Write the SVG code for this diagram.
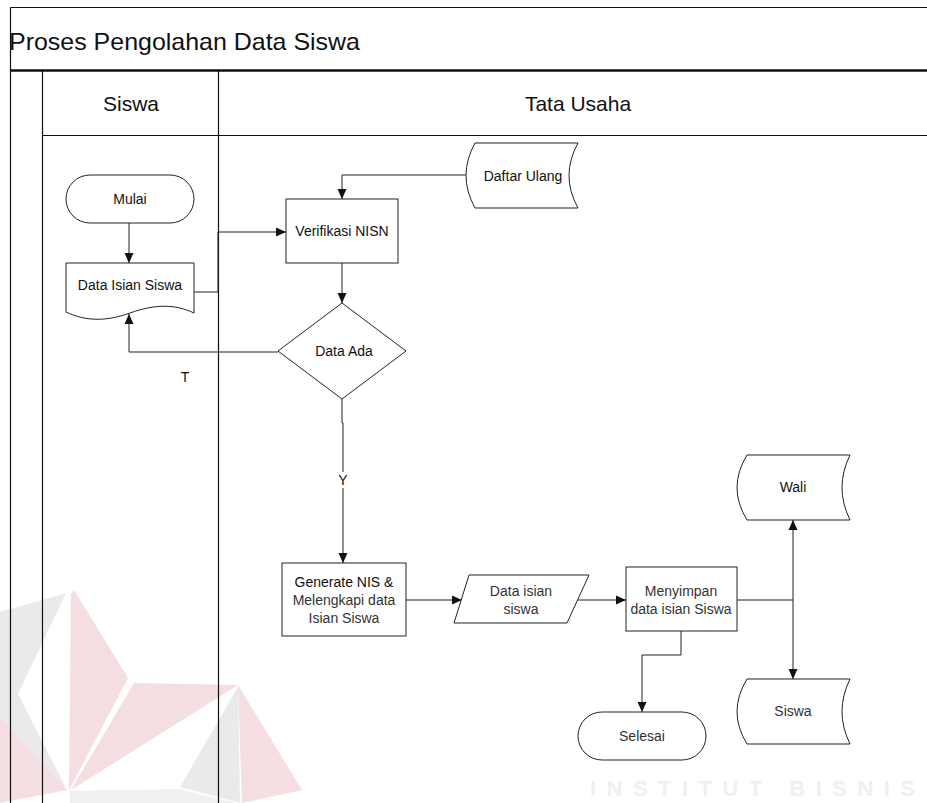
<svg xmlns="http://www.w3.org/2000/svg" width="927" height="803" viewBox="0 0 927 803">
<style>
.t{font-family:"Liberation Sans",Arial,sans-serif;font-size:14px;fill:#111;text-anchor:middle}
.shape{fill:#fff;stroke:#222;stroke-width:1}
.frame{stroke:#111;stroke-width:1.2;fill:none}
.conn{fill:none;stroke:#222;stroke-width:1}
</style>
<defs>
<marker id="arr" markerUnits="userSpaceOnUse" markerWidth="10" markerHeight="10" viewBox="0 0 10 10" refX="10" refY="5" orient="auto">
<path d="M0,0.5 L10,5 L0,9.5 Z" fill="#111"/>
</marker>
</defs>
<rect width="927" height="803" fill="#fff"/>
<g id="watermark" opacity="0.75">
<polygon points="71,594 74,590 128,678 69,790" fill="#f2d4d8"/>
<polygon points="0,612 66,593 18,694 66,788 0,742" fill="#e3e3e3"/>
<polygon points="0,718 67,790 0,803" fill="#f2d4d8"/>
<polygon points="134,683 238,685 71,790" fill="#f2d4d8"/>
<polygon points="238,687 180,787 240,803" fill="#e3e3e3"/>
<polygon points="238,685 302,790 242,803" fill="#f2d4d8"/>
<polygon points="70,791 180,789 236,803 70,803" fill="#ececec"/>
<text x="590" y="796" font-family="'Liberation Sans',Arial,sans-serif" font-weight="bold" font-size="22" fill="#ebebeb" textLength="325" lengthAdjust="spacing">INSTITUT BISNIS</text>
</g>
<g id="pool">
<path class="frame" d="M10.5,7.5 H927 M10.5,7.5 V803 M42.5,71 V803 M218.5,71 V803 M42,135.5 H927"/>
<path d="M10,70.5 H927" stroke="#111" stroke-width="2.5"/>
<text x="9" y="50" font-family="'Liberation Sans',Arial,sans-serif" font-size="24" fill="#111" textLength="351" lengthAdjust="spacingAndGlyphs">Proses Pengolahan Data Siswa</text>
<text x="131" y="111" class="t" style="font-size:21px">Siswa</text>
<text x="578" y="111" class="t" style="font-size:21px">Tata Usaha</text>
</g>
<g id="connectors">
<path class="conn" d="M129,223 V263" marker-end="url(#arr)"/>
<path class="conn" d="M194,292 H218 V232 H286" marker-end="url(#arr)"/>
<path class="conn" d="M467,175 H342 V199" marker-end="url(#arr)"/>
<path class="conn" d="M342,263 V303" marker-end="url(#arr)"/>
<path class="conn" d="M278,352 H129 V314" marker-end="url(#arr)"/>
<path class="conn" d="M342,399 V423 H343 V563" marker-end="url(#arr)"/>
<path class="conn" d="M406,600 H462" marker-end="url(#arr)"/>
<path class="conn" d="M578,600 H626" marker-end="url(#arr)"/>
<path class="conn" d="M681,631 V655 H642 V712" marker-end="url(#arr)"/>
<path class="conn" d="M737,600 H793"/>
<path class="conn" d="M793,600 V520" marker-end="url(#arr)"/>
<path class="conn" d="M793,600 V679" marker-end="url(#arr)"/>
<rect x="336" y="472" width="14" height="16" fill="#fff"/>
<text x="343" y="485" class="t">Y</text>
<text x="185" y="382" class="t">T</text>
</g>
<g id="mulai">
<rect class="shape" x="66" y="175" width="128" height="48" rx="24"/>
<text x="130" y="204" class="t">Mulai</text>
</g>
<g id="data-isian-siswa">
<path class="shape" d="M66,263 H194 V313 C175,304 155,304 130,313 C105,322 85,321 66,312 Z"/>
<text x="130" y="290" class="t">Data Isian Siswa</text>
</g>
<g id="daftar-ulang">
<path class="shape" d="M475,143 H578 Q560,175.5 578,208 H475 Q457,175.5 475,143 Z"/>
<text x="523" y="181" class="t">Daftar Ulang</text>
</g>
<g id="verifikasi-nisn">
<rect class="shape" x="286" y="199" width="112" height="64"/>
<text x="342" y="236" class="t">Verifikasi NISN</text>
</g>
<g id="data-ada">
<polygon class="shape" points="342,303 406,351 342,399 278,351"/>
<text x="344" y="356" class="t">Data Ada</text>
</g>
<g id="generate-nis">
<rect class="shape" x="282" y="563" width="124" height="73"/>
<text x="344" y="587" class="t">Generate NIS &amp;</text>
<text x="344" y="605" class="t" style="fill:#333">Melengkapi data</text>
<text x="344" y="623" class="t" style="fill:#333">Isian Siswa</text>
</g>
<g id="data-isian-siswa-io">
<polygon class="shape" points="469,575 589,575 567,623 454,623"/>
<text x="521" y="596" class="t" style="fill:#333">Data isian</text>
<text x="521" y="614" class="t" style="fill:#333">siswa</text>
</g>
<g id="menyimpan">
<rect class="shape" x="626" y="567" width="111" height="64"/>
<text x="681" y="596" class="t" style="fill:#333">Menyimpan</text>
<text x="681" y="614" class="t" style="fill:#333">data isian Siswa</text>
</g>
<g id="selesai">
<rect class="shape" x="578" y="712" width="128" height="48" rx="24"/>
<text x="642" y="741" class="t" style="fill:#333">Selesai</text>
</g>
<g id="wali">
<path class="shape" d="M747,455 H850 Q834,487.5 850,520 H747 Q727,487.5 747,455 Z"/>
<text x="793" y="492" class="t">Wali</text>
</g>
<g id="siswa">
<path class="shape" d="M747,679 H850 Q834,711.5 850,744 H747 Q727,711.5 747,679 Z"/>
<text x="793" y="716" class="t" style="fill:#333">Siswa</text>
</g>
</svg>
